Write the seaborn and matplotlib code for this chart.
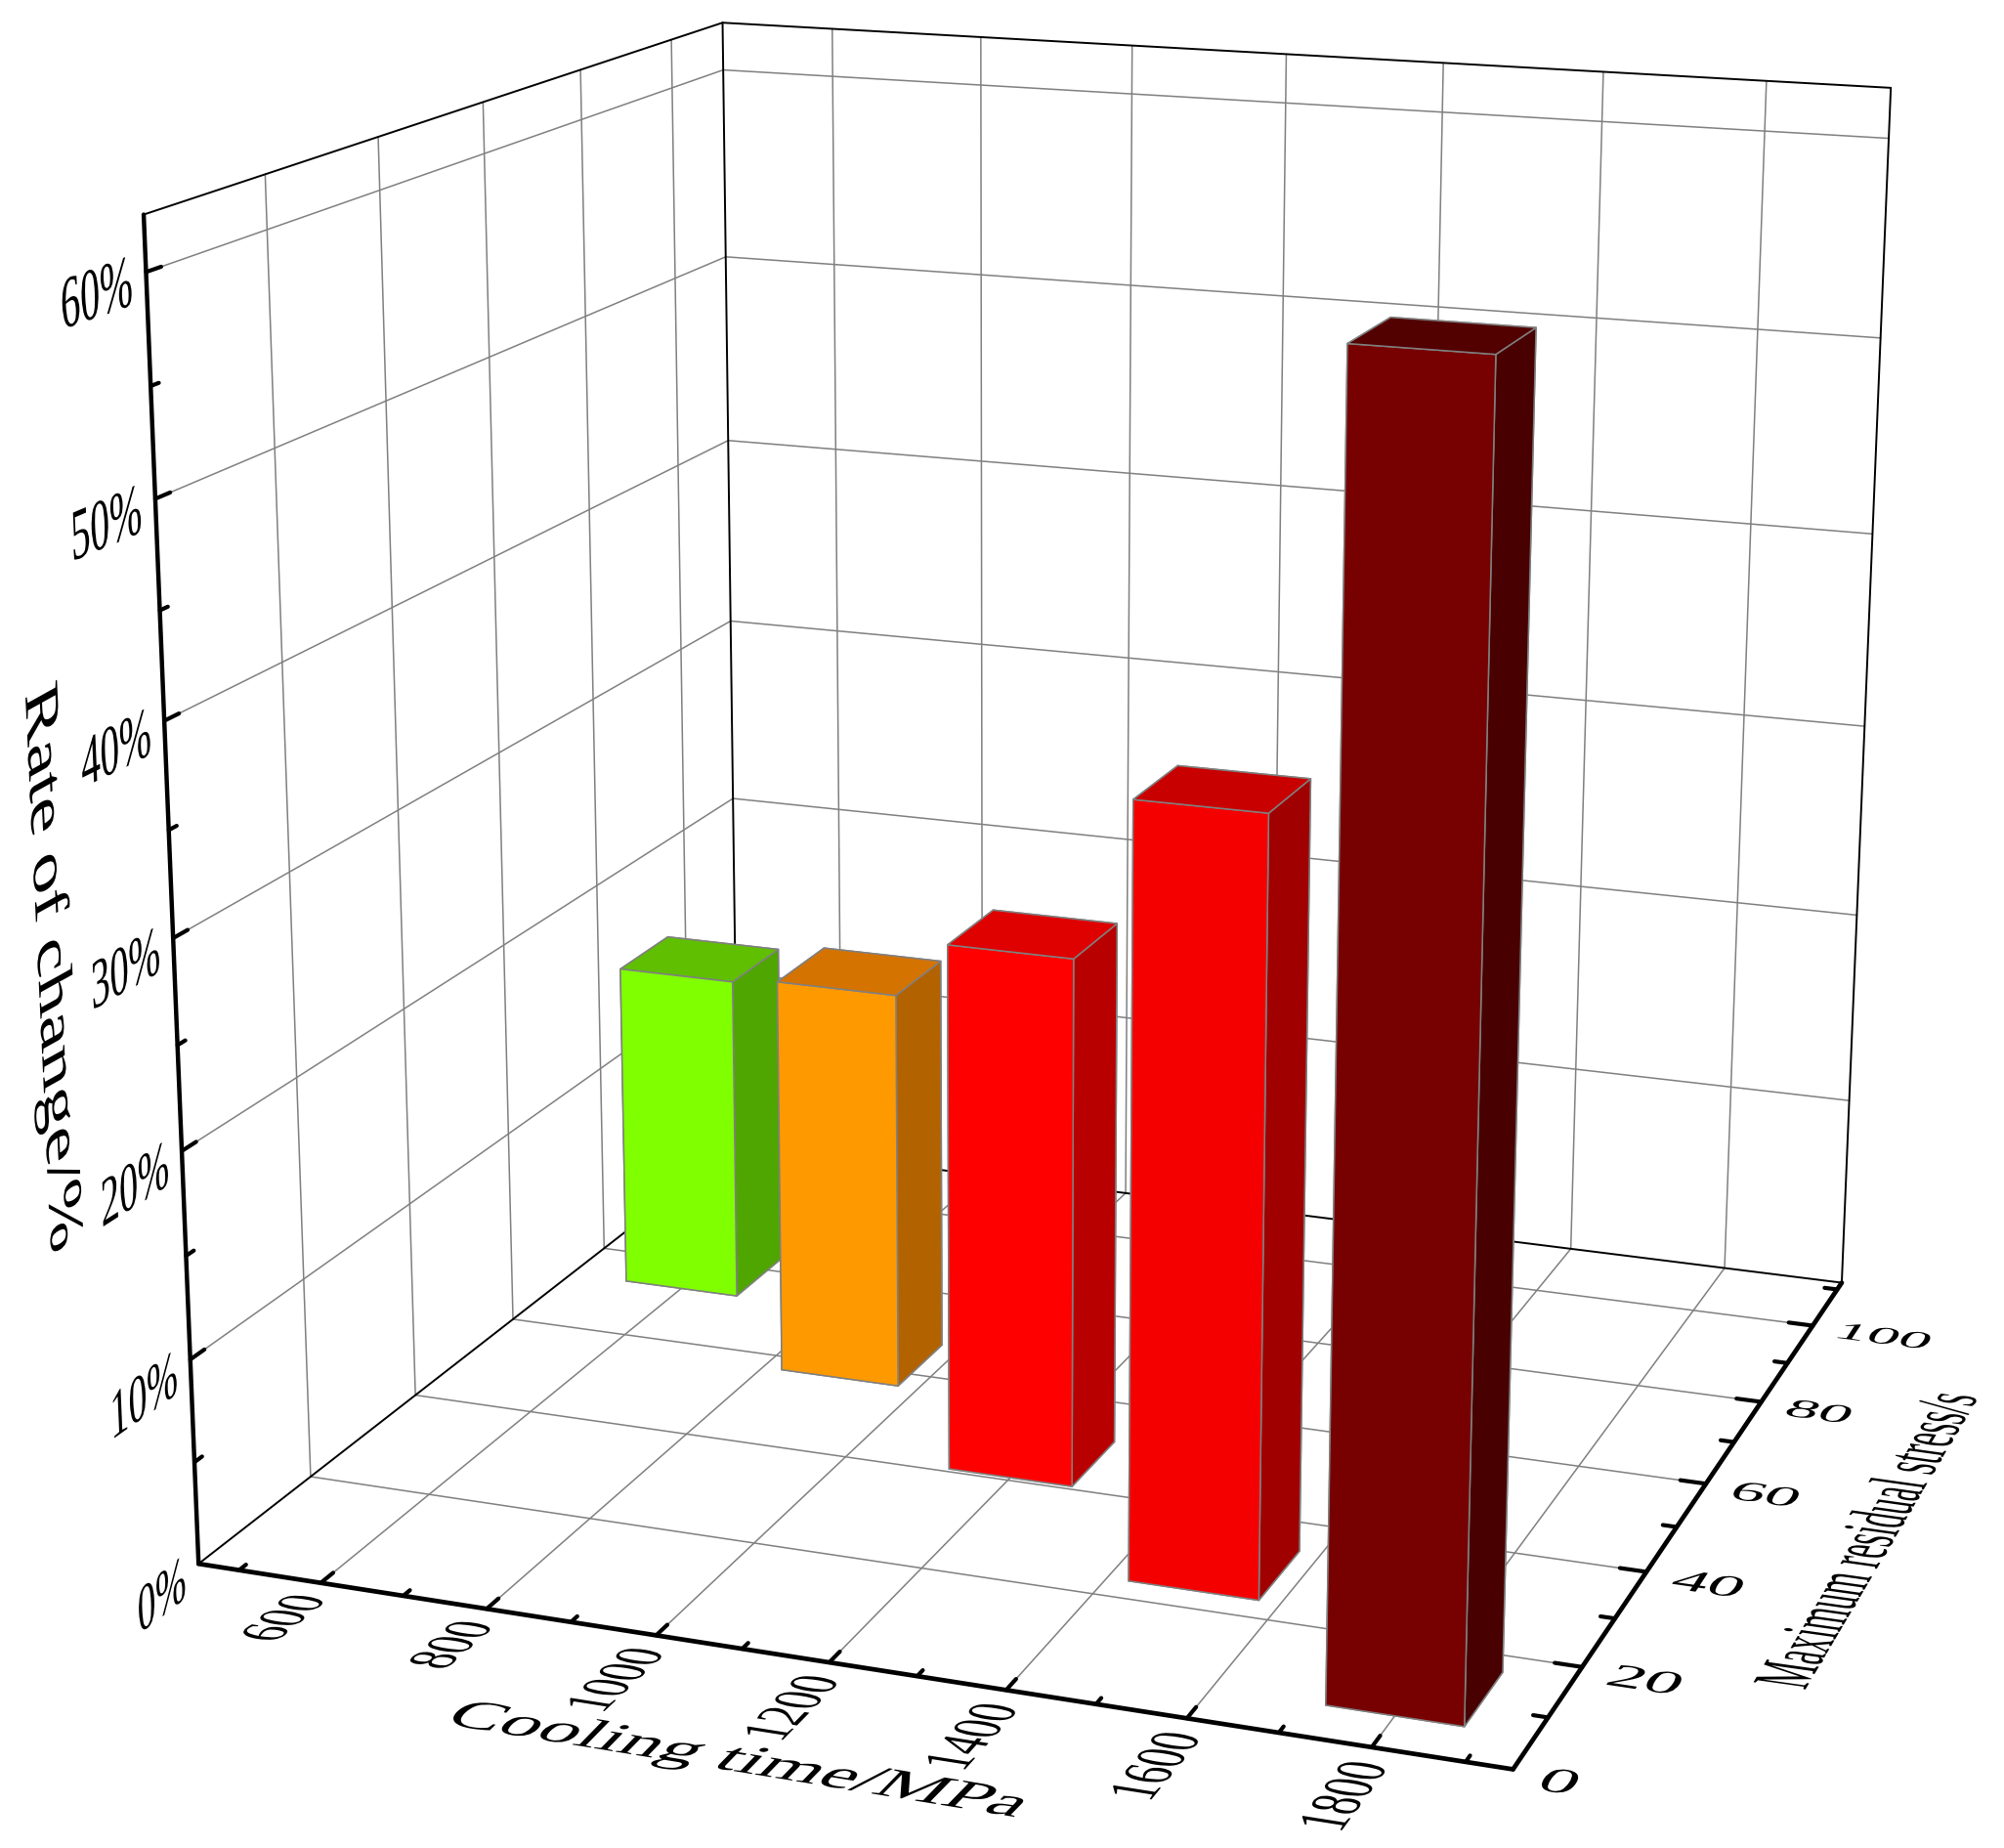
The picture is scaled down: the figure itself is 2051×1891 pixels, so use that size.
import numpy as np
import seaborn as sns
import matplotlib
matplotlib.use('Agg')
import matplotlib.pyplot as plt
from matplotlib.patheffects import AbstractPathEffect
from matplotlib.transforms import Affine2D


cooling = [600, 899.5, 1200, 1500, 1800]
stress = [78.05, 62.3, 45.95, 28.8, 11.5]
rate = [17.0, 20.3, 26.2, 37.0, 60.0]

x_major = [600, 800, 1000, 1200, 1400, 1600, 1800]
x_minor = [500, 700, 900, 1100, 1300, 1500, 1700, 1900]
y_major = [0, 20, 40, 60, 80, 100]
y_minor = [10, 30, 50, 70, 90, 110]
z_major = [0, 10, 20, 30, 40, 50, 60]
z_minor = [5, 15, 25, 35, 45, 55]

x_labels = ['600', '800', '1000', '1200', '1400', '1600', '1800']
y_labels = ['0', '20', '40', '60', '80', '100']
z_labels = ['0%', '10%', '20%', '30%', '40%', '50%', '60%']

front_colors = ['#7FFF00', '#FF9900', '#FF0000', '#F50000', '#770000']
top_colors = ['#5FBF00', '#D57300', '#DF0000', '#C80000', '#520000']
side_colors = ['#4FA600', '#B36200', '#B90000', '#A00000', '#480000']

xmin, xmax = 450, 1950
ymin, ymax = 0.132, 111.899
zmin, zmax = 0, 62.5
bar_w, bar_d = 150, 10.7

W, H = 2051, 1891
GRID = '#808080'
FONT = 30
EM = FONT * 100 / 72

sns.set_theme(style='white')
plt.rcParams['font.family'] = ['Liberation Serif', 'DejaVu Serif']

fig = plt.figure(figsize=(W / 100, H / 100), dpi=100, facecolor='white')
ax = fig.add_axes([0, 0, 1, 1], projection='3d', computed_zorder=False)
ax.apply_aspect = lambda position=None: None
ax.set_axis_off()
ax.set_xlim(xmin, xmax)
ax.set_ylim(ymin, ymax)
ax.set_zlim(zmin, zmax)
ax.view_init(15.645, -70.0105, -0.1773)
ax.set_proj_type('persp', focal_length=0.484)
ax.set_box_aspect((1.00496, 1.00525, 1))

# 2d scale of the projected box, fitted against the picture
sx, tx = 12214.51, 1099.528
sy, ty = 12271.0, 1072.422
vl = ax.viewLim
ax.set_position([(tx + sx * vl.x0) / W, (ty + sy * vl.y0) / H,
                 sx * vl.width / W, sy * vl.height / H])
proj = ax.get_proj()


def to_px(p):
    h = proj @ np.array([p[0], p[1], p[2], 1.0])
    return np.array([sx * h[0] / h[3] + tx, sy * h[1] / h[3] + ty])


class Plane(AbstractPathEffect):
    # lays the glyphs into a plane of the box, text stays a normal Text
    def __init__(self, m, side):
        super().__init__()
        self.m = m
        self.side = side

    def draw_path(self, renderer, gc, tpath, affine, rgbFace=None):
        e = tpath.get_extents(affine)
        cy = (e.y0 + e.y1) / 2
        cx = {'left': e.x0, 'right': e.x1, 'center': (e.x0 + e.x1) / 2}[self.side]
        a = self.m
        skew = Affine2D.from_values(a[0, 0], a[1, 0], a[0, 1], a[1, 1], 0, 0)
        t = affine + Affine2D().translate(-cx, -cy) + skew + Affine2D().translate(cx, cy)
        renderer.draw_path(gc, tpath, t, rgbFace)


def plane_text(x, y, z, s, u, v, side='center'):
    # u and v: data vectors covered by one em along the baseline and upward
    p = np.array([x, y, z], float)
    o = to_px(p)
    m = np.c_[(to_px(p + np.array(u)) - o) / EM, (to_px(p + np.array(v)) - o) / EM]
    ax.text(x, y, z, s, ha=side, va='center', fontsize=FONT, color='black',
            zorder=40, path_effects=[Plane(m, side)])


def seg(a, b, color, lw, zorder):
    ax.plot([a[0], b[0]], [a[1], b[1]], [a[2], b[2]], color=color, lw=lw,
            zorder=zorder, solid_capstyle='round')


# grid on floor and the two walls
for t in x_major:
    seg((t, ymin, zmin), (t, ymax, zmin), GRID, 1.1, 1)
    seg((t, ymax, zmin), (t, ymax, zmax), GRID, 1.1, 1)
for t in y_major[1:]:
    seg((xmin, t, zmin), (xmax, t, zmin), GRID, 1.1, 1)
    seg((xmin, t, zmin), (xmin, t, zmax), GRID, 1.1, 1)
for t in z_major[1:]:
    seg((xmin, ymin, t), (xmin, ymax, t), GRID, 1.1, 1)
    seg((xmin, ymax, t), (xmax, ymax, t), GRID, 1.1, 1)

# thin box edges
for a, b in [((xmin, ymin, zmin), (xmin, ymax, zmin)),
             ((xmin, ymax, zmin), (xmax, ymax, zmin)),
             ((xmin, ymax, zmin), (xmin, ymax, zmax)),
             ((xmax, ymax, zmin), (xmax, ymax, zmax)),
             ((xmin, ymin, zmax), (xmin, ymax, zmax)),
             ((xmin, ymax, zmax), (xmax, ymax, zmax))]:
    seg(a, b, 'black', 1.4, 2)

# bars, back to front
for i in range(len(rate)):
    faces = [front_colors[i], top_colors[i], front_colors[i],
             front_colors[i], side_colors[i], side_colors[i]]
    ax.bar3d(cooling[i] - bar_w / 2, stress[i] - bar_d / 2, 0, bar_w, bar_d, rate[i],
             color=faces, shade=False, edgecolor=GRID, linewidth=1.1, zorder=10 + i)

# heavy axes and their ticks
seg((xmin, ymin, zmin), (xmax, ymin, zmin), 'black', 3.4, 30)
seg((xmax, ymin, zmin), (xmax, ymax, zmin), 'black', 3.4, 30)
seg((xmin, ymin, zmin), (xmin, ymin, zmax), 'black', 3.2, 30)
for t in x_major:
    seg((t, ymin, zmin), (t, ymin + 2.2, zmin), 'black', 3.0, 30)
for t in x_minor:
    seg((t, ymin, zmin), (t, ymin + 1.2, zmin), 'black', 3.0, 30)
for t in y_major[1:]:
    seg((xmax, t, zmin), (xmax - 30, t, zmin), 'black', 3.0, 30)
for t in y_minor:
    seg((xmax, t, zmin), (xmax - 16, t, zmin), 'black', 3.0, 30)
for t in z_major[1:]:
    seg((xmin, ymin, t), (xmin, ymin + 2.4, t), 'black', 3.0, 30)
for t in z_minor:
    seg((xmin, ymin, t), (xmin, ymin + 1.3, t), 'black', 3.0, 30)

# tick labels
for t, s in zip(x_major, x_labels):
    plane_text(t + 10, ymin - 3.4, zmin, s, (0, 6.4, 0), (-72, 0, 0), 'right')
for t, s in zip(y_major, y_labels):
    plane_text(xmax + 36, t - 1.2, zmin, s, (78, 0, 0), (0, 6.2, 0), 'left')
for t, s in zip(z_major, z_labels):
    plane_text(xmin, ymin - 2.2, t - 0.3, s, (0, 6.2, 0), (0, 0, 3.2), 'right')

# axis titles
plane_text(1205, -19, 0, 'Cooling time/MPa', (85, 0, 0), (0, 7.0, 0))
plane_text(2158, 52, 0, 'Maximum residual stress/s', (0, 6.2, 0), (-90, 0, 0))
plane_text(xmin, -19, 31.7, 'Rate of change/%', (0, 0, -3.55), (0, 7.4, 0))

ax.set_xlim(xmin, xmax)
ax.set_ylim(ymin, ymax)
ax.set_zlim(zmin, zmax)
fig.savefig('out.png', dpi=100)
